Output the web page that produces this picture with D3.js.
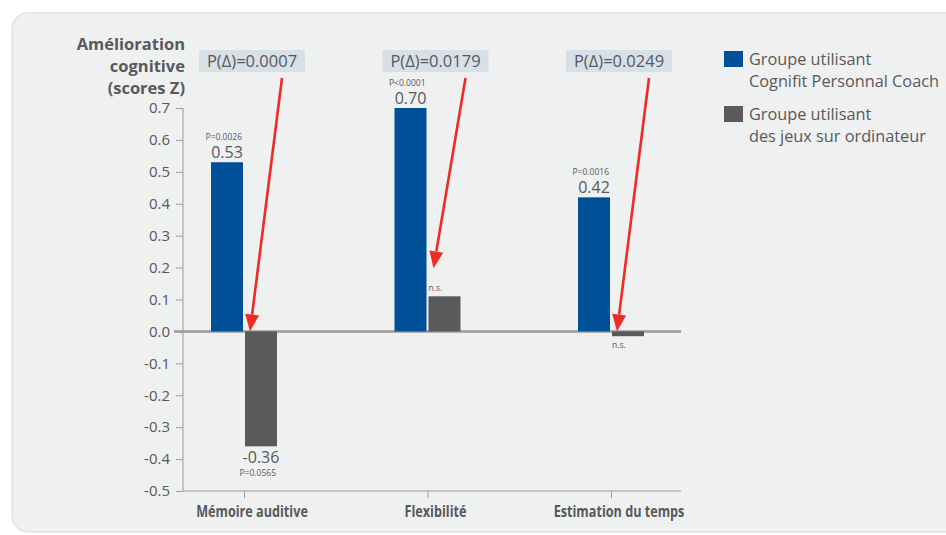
<!DOCTYPE html>
<html>
<head>
<meta charset="utf-8">
<script src="https://cdn.jsdelivr.net/npm/d3@7"></script>
<style>
  html, body { margin: 0; padding: 0; background: #ffffff; }
  svg { display: block; }
  text { font-family: "Open Sans", "Noto Sans", sans-serif; fill: #58595b; }
  .cat { font-family: "Open Sans", sans-serif; font-weight: bold; }
</style>
</head>
<body>
<svg id="chart" width="946" height="535"></svg>
<script>
// Cognitive improvement (Z scores) per test, for the two groups
const categories = ["Mémoire auditive", "Flexibilité", "Estimation du temps"];
const coachValues = [0.53, 0.70, 0.42];
const jeuxValues = [-0.36, 0.11, -0.015];
const coachPLabels = ["P=0.0026", "P<0.0001", "P=0.0016"];
const jeuxPLabels = ["P=0.0565", "n.s.", "n.s."];
const jeuxShowValue = [true, false, false];
const deltaPLabels = ["P(Δ)=0.0007", "P(Δ)=0.0179", "P(Δ)=0.0249"];
const yTickValues = [0.7, 0.6, 0.5, 0.4, 0.3, 0.2, 0.1, 0.0, -0.1, -0.2, -0.3, -0.4, -0.5];
const seriesNames = [
  ["Groupe utilisant", "Cognifit Personnal Coach"],
  ["Groupe utilisant", "des jeux sur ordinateur"]
];
const titleLines = ["Amélioration", "cognitive", "(scores Z)"];

const BLUE = "#005098";
const GREY = "#5a5a5d";
const RED = "#ee2b24";
const AXIS = "#9a9a9a";

const svg = d3.select("#chart");

// background panel
svg.append("rect")
  .attr("x", 12).attr("y", 13).attr("width", 960).attr("height", 519)
  .attr("rx", 16).attr("ry", 16)
  .attr("fill", "#eff0f0").attr("stroke", "#e1e2e2").attr("stroke-width", 1.5);

const y = d3.scaleLinear().domain([-0.5, 0.7]).range([491, 108]);
const x = d3.scalePoint().domain(categories).range([244, 611]);
const barW = 32, gap = 2;
const fmt1 = v => v.toFixed(1);
const fmt2 = v => v.toFixed(2);

// y axis
const yAxis = d3.axisLeft(y).tickValues(yTickValues).tickFormat(fmt1)
  .tickSize(7).tickPadding(6);
const gy = svg.append("g").attr("transform", "translate(183,0)").call(yAxis);
gy.select(".domain").attr("stroke", AXIS).attr("d", `M0,${y(0.7)}V${y(-0.5)}`);
gy.selectAll(".tick line").attr("stroke", AXIS);
gy.selectAll(".tick text").attr("font-size", 15).attr("fill", "#58595b")
  .attr("font-family", "'Open Sans', sans-serif");

// x axis at the bottom
const xAxis = d3.axisBottom(x).tickSize(7).tickFormat("");
const gx = svg.append("g").attr("transform", `translate(0,${y(-0.5)})`).call(xAxis);
gx.select(".domain").attr("stroke", AXIS).attr("d", "M183,0H681");
gx.selectAll(".tick line").attr("stroke", AXIS);

// category labels, horizontally condensed
svg.append("g").selectAll("g").data(categories).join("g")
  .attr("transform", d => `translate(${x(d) + 8},517) scale(0.8,1)`)
  .append("text")
  .attr("class", "cat")
  .attr("text-anchor", "middle")
  .attr("font-size", 15.8)
  .text(d => d);

// zero line
svg.append("line")
  .attr("x1", 174).attr("x2", 681)
  .attr("y1", y(0)).attr("y2", y(0))
  .attr("stroke", AXIS).attr("stroke-width", 2.5);

// bars
const coachX = c => x(c) - gap / 2 - barW;
const jeuxX = c => x(c) + gap / 2;

svg.append("g").selectAll("rect").data(categories).join("rect")
  .attr("x", coachX)
  .attr("y", (c, i) => y(Math.max(0, coachValues[i])))
  .attr("width", barW)
  .attr("height", (c, i) => Math.abs(y(coachValues[i]) - y(0)))
  .attr("fill", BLUE);

svg.append("g").selectAll("rect").data(categories).join("rect")
  .attr("x", jeuxX)
  .attr("y", (c, i) => y(Math.max(0, jeuxValues[i])))
  .attr("width", barW)
  .attr("height", (c, i) => Math.abs(y(jeuxValues[i]) - y(0)))
  .attr("fill", GREY);

// value and significance labels for the Coach group
const lab = svg.append("g");
categories.forEach((c, i) => {
  const top = y(coachValues[i]);
  lab.append("text").attr("x", coachX(c) + barW / 2).attr("y", top - 4)
    .attr("text-anchor", "middle").attr("font-size", 16).text(fmt2(coachValues[i]));
  lab.append("text").attr("x", coachX(c) + barW - 1).attr("y", top - 22.5)
    .attr("text-anchor", "end").attr("font-size", 8.5).text(coachPLabels[i]);
});

// value and significance labels for the games group
categories.forEach((c, i) => {
  const v = jeuxValues[i];
  const bx = jeuxX(c);
  if (v < 0) {
    const bottom = y(v);
    if (jeuxShowValue[i]) {
      lab.append("text").attr("x", bx + barW / 2).attr("y", bottom + 17)
        .attr("text-anchor", "middle").attr("font-size", 16).text(fmt2(v));
      lab.append("text").attr("x", bx + barW - 1).attr("y", bottom + 30)
        .attr("text-anchor", "end").attr("font-size", 8.5).text(jeuxPLabels[i]);
    } else {
      lab.append("text").attr("x", bx).attr("y", bottom + 12)
        .attr("font-size", 8.5).text(jeuxPLabels[i]);
    }
  } else {
    lab.append("text").attr("x", bx).attr("y", y(v) - 5)
      .attr("font-size", 8.5).text(jeuxPLabels[i]);
  }
});

// P(Δ) boxes with arrows pointing at the games bar
const boxW = 106, boxH = 22, boxY = 50;
const ann = svg.append("g");
categories.forEach((c, i) => {
  const cx = x(c) + 8;
  ann.append("rect").attr("x", cx - boxW / 2).attr("y", boxY)
    .attr("width", boxW).attr("height", boxH).attr("fill", "#d6e0e6");
  ann.append("text").attr("x", cx).attr("y", boxY + 17)
    .attr("text-anchor", "middle").attr("font-size", 16.5).text(deltaPLabels[i]);

  // the arrow stops above a label sitting on top of a positive bar
  const v = jeuxValues[i];
  const x0 = cx + 30, y0 = boxY + boxH + 6;
  const x1 = jeuxX(c) + 5, y1 = y(Math.max(0, v)) - (v > 0 ? 28 : 0);
  const ang = Math.atan2(y1 - y0, x1 - x0);
  const headL = 17, headW = 7;
  const bxp = x1 - headL * Math.cos(ang), byp = y1 - headL * Math.sin(ang);
  ann.append("line").attr("x1", x0).attr("y1", y0).attr("x2", bxp).attr("y2", byp)
    .attr("stroke", RED).attr("stroke-width", 2.6);
  const px = -Math.sin(ang), py = Math.cos(ang);
  ann.append("path")
    .attr("d", d3.line()([
      [x1, y1],
      [bxp + px * headW, byp + py * headW],
      [bxp - px * headW, byp - py * headW]
    ]) + "Z")
    .attr("fill", RED);
});

// y axis title
svg.append("g").selectAll("text").data(titleLines).join("text")
  .attr("x", 185).attr("y", (d, i) => 50 + i * 22)
  .attr("text-anchor", "end").attr("font-weight", "bold").attr("font-size", 16.5)
  .text(d => d);

// legend
const leg = svg.append("g");
[BLUE, GREY].forEach((col, i) => {
  const y0 = 51 + i * 55;
  leg.append("rect").attr("x", 724).attr("y", y0).attr("width", 19).attr("height", 16).attr("fill", col);
  seriesNames[i].forEach((t, j) => {
    leg.append("text").attr("x", 749).attr("y", y0 + 14 + j * 22)
      .attr("font-size", 16.3).text(t);
  });
});
</script>
</body>
</html>
